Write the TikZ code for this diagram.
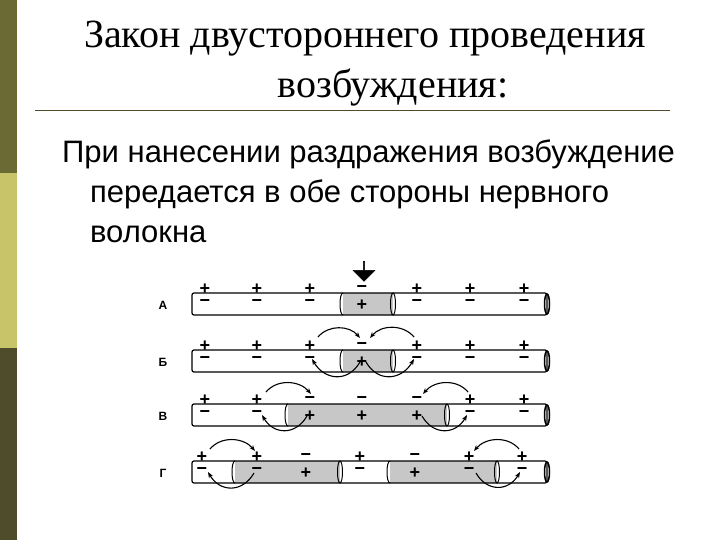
\documentclass[tikz,border=0pt]{standalone}
\usepackage{fontspec}
\setmainfont{Liberation Serif}
\newfontfamily\bodyf{Liberation Sans}
\usetikzlibrary{arrows.meta,shapes.arrows}
\definecolor{barA}{RGB}{107,106,53}
\definecolor{barB}{RGB}{200,196,106}
\definecolor{barC}{RGB}{78,76,42}
\begin{document}
\begin{tikzpicture}[x=1pt,y=-1pt,
  fib/.style={draw,line width=1.2pt,rounded corners=2pt},
  exc/.style={fill=black!22},
  sg/.style={font=\bodyf\bfseries\fontsize{18}{18}\selectfont,inner sep=0pt},
  rl/.style={font=\bodyf\bfseries\fontsize{12}{12}\selectfont},
  cur/.style={-{Stealth[length=6pt]},line width=1.1pt}]
\useasboundingbox (0,0) rectangle (720,540);
\fill[white] (0,0) rectangle (720,540);
\fill[barA] (0,0) rectangle (17,173);
\fill[barB] (0,173) rectangle (17,348);
\fill[barC] (0,348) rectangle (17,540);
\node[font=\fontsize{40}{50}\selectfont,align=center,inner sep=0pt] (title) at (365,64) {Закон двустороннего проведения\\ \hspace*{1.4em}возбуждения:};
\draw[line width=1pt,barC] (35,111) -- (670,111);
\node[font=\bodyf\fontsize{31}{40}\selectfont,align=left,anchor=north west,inner sep=0pt] (body) at (62,140) {При нанесении раздражения возбуждение\\ \hspace*{0.9em}передается в обе стороны нервного\\ \hspace*{0.9em}волокна};
\newcommand{\fiber}[1]{%
  \draw[fib] (192,#1-11) rectangle (547,#1+11);
  \draw[line width=1.5pt] (547,#1) ellipse (2.5 and 10);}
\newcommand{\lcap}[2]{\draw[line width=1pt] (#1,#2-11) .. controls (#1-4,#2-11) and (#1-4,#2+11) .. (#1,#2+11);}
\newcommand{\rcap}[2]{\draw[line width=1pt] (#1,#2) ellipse (2.5 and 11);}
% Row A
\node[rl] (la) at (163,305) {А};
\fill[exc] (343,293) rectangle (393,315);
\fiber{304}
\lcap{343}{304}\rcap{393}{304}
\foreach \x in {205,257,310,417,470,524}{\node[sg] at (\x,289) {+};\node[sg] at (\x,303) {\textminus};}
\node[sg] at (362,289) {\textminus};\node[sg] at (362,305) {+};
\node[single arrow,draw,fill=black,shape border rotate=270,minimum width=22pt,single arrow head extend=3pt,minimum height=20pt,inner sep=0pt] (stim) at (364,271) {};
% Row B
\node[rl] (lb) at (163,362) {Б};
\fill[exc] (343,350) rectangle (393,372);
\fiber{361}
\lcap{343}{361}\rcap{393}{361}
\foreach \x in {205,257,310,417,470,524}{\node[sg] at (\x,346) {+};\node[sg] at (\x,360) {\textminus};}
\node[sg] at (362,346) {\textminus};\node[sg] at (362,362) {+};
\draw[cur] (318,337) to[out=50,in=130] (360,338);
\draw[cur] (414,337) to[out=130,in=50] (370,338);
\draw[cur] (360,362) to[out=240,in=300,looseness=1.3] (312,359);
\draw[cur] (366,362) to[out=300,in=240,looseness=1.3] (414,359);
% Row C
\node[rl] (lc) at (163,416) {В};
\fill[exc] (288,404) rectangle (447,426);
\fiber{415}
\lcap{288}{415}\rcap{447}{415}
\foreach \x in {205,257,470,524}{\node[sg] at (\x,400) {+};\node[sg] at (\x,414) {\textminus};}
\foreach \x in {310,362,417}{\node[sg] at (\x,400) {\textminus};\node[sg] at (\x,416) {+};}
\draw[cur] (266,392) to[out=50,in=130] (311,394);
\draw[cur] (468,392) to[out=130,in=50] (423,394);
\draw[cur] (307,416) to[out=240,in=300,looseness=1.3] (262,415);
\draw[cur] (422,416) to[out=300,in=240,looseness=1.3] (467,415);
% Row D
\node[rl] (ld) at (163,473) {Г};
\fill[exc] (235,461) rectangle (340,483);
\fill[exc] (390,461) rectangle (497,483);
\fiber{472}
\lcap{235}{472}\rcap{340}{472}
\lcap{390}{472}\rcap{497}{472}
\foreach \x in {202,257,360,469,522}{\node[sg] at (\x,457) {+};\node[sg] at (\x,471) {\textminus};}
\foreach \x in {306,415}{\node[sg] at (\x,457) {\textminus};\node[sg] at (\x,473) {+};}
\draw[cur] (210,449) to[out=50,in=130] (255,451);
\draw[cur] (519,449) to[out=130,in=50] (474,451);
\draw[cur] (254,473) to[out=240,in=300,looseness=1.3] (208,472);
\draw[cur] (476,473) to[out=300,in=240,looseness=1.3] (520,472);
\end{tikzpicture}
\end{document}
